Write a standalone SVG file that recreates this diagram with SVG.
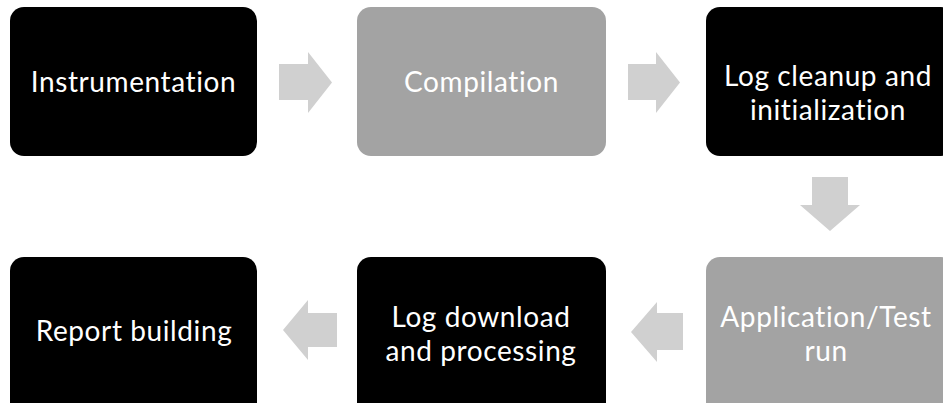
<svg xmlns="http://www.w3.org/2000/svg" width="943" height="403" viewBox="0 0 943 403">
<style>
.dark{fill:#000000}
.grey{fill:#a3a3a3}
.arr{fill:#d0d0d0}
text{font-family:Lato,"Open Sans",sans-serif;font-size:28px;letter-spacing:0.6px;fill:#ffffff;text-anchor:middle}
</style>
<rect width="943" height="403" fill="#ffffff"/>
<g id="connectors">
<polygon class="arr" points="279,64 308,64 308,52 332,82.5 308,113 308,100 279,100"/>
<polygon class="arr" points="628,64 656,64 656,52 680,82.5 656,113 656,100 628,100"/>
<polygon class="arr" points="812,177 848,177 848,205 860,205 830,231 800,205 812,205"/>
<polygon class="arr" points="683,313 657,313 657,302 631,332 657,362 657,350 683,350"/>
<polygon class="arr" points="337,313 308,313 308,300 283,330 308,360 308,347 337,347"/>
</g>
<g id="n1"><rect class="dark" x="10" y="7" width="247" height="149" rx="14"/><text x="133.5" y="92">Instrumentation</text></g>
<g id="n2"><rect class="grey" x="357" y="7" width="249" height="149" rx="14"/><text x="481.5" y="92">Compilation</text></g>
<g id="n3"><rect class="dark" x="706" y="7" width="249" height="149" rx="14"/><text x="828" y="86">Log cleanup and</text><text x="828" y="120">initialization</text></g>
<g id="n4"><rect class="grey" x="706" y="257" width="249" height="160" rx="14"/><text x="826" y="327">Application/Test</text><text x="826" y="361">run</text></g>
<g id="n5"><rect class="dark" x="357" y="257" width="249" height="160" rx="14"/><text x="481" y="327">Log download</text><text x="481" y="361">and processing</text></g>
<g id="n6"><rect class="dark" x="10" y="257" width="247" height="160" rx="14"/><text x="134" y="341">Report building</text></g>
</svg>
